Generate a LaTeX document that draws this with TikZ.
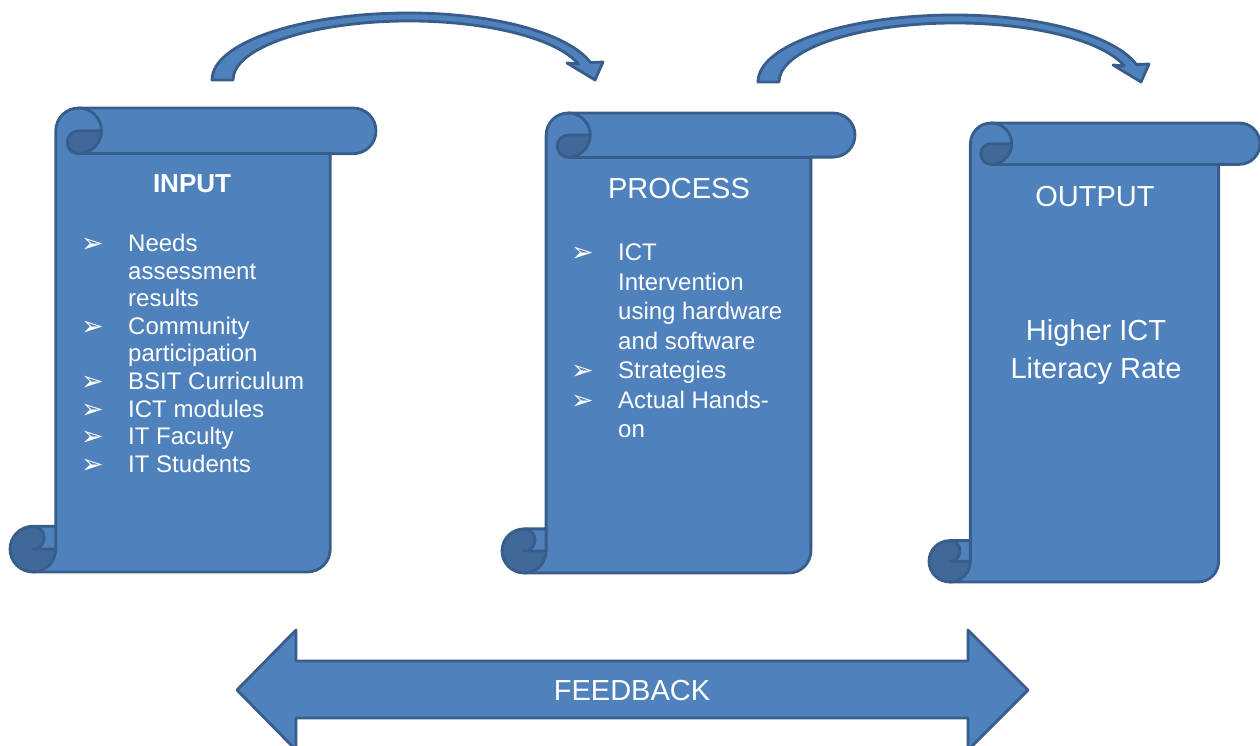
\documentclass[tikz,border=0pt]{standalone}
\usepackage{fontspec}
\setmainfont{Liberation Sans}
\newfontfamily\symfont{DejaVu Sans}
\usetikzlibrary{positioning}
\definecolor{sfill}{RGB}{79,129,189}
\definecolor{sline}{RGB}{56, 93,138}
\definecolor{sdark}{RGB}{64,104,152}
\tikzset{
  % scroll outline
  ScrL/.style={draw=sline,line width=2.8pt,line cap=round,line join=round},
  % block arrows
  BArr/.style={fill=sfill,draw=sline,line width=2.8pt,line join=round},
  % white headings
  Ttl/.style={text=white,inner sep=0pt,anchor=base,
              font=\fontsize{29}{38}\selectfont},
  % white bullet lists (anchored at last baseline)
  Lst/.style={text=white,align=left,inner sep=0pt,anchor=base west,
              font=\fontsize{24}{#1}\selectfont},
  Lst/.default=27.6,
}
\newcommand\bul{\makebox[47pt][l]{\raisebox{-1pt}{\symfont\fontsize{27}{27}\selectfont ➢}}}
\newcommand\cnt{\hspace*{47pt}}
% vertical scroll: left, top, right, bottom
\newcommand\drawscroll[4]{%
  \pgfmathsetmacro\scC{(#3-#1)/8}%
  \pgfmathsetmacro\scH{\scC/2}%
  \pgfmathsetmacro\scQ{\scC/4}%
  \pgfmathsetmacro\scXa{#1+\scH}%
  \pgfmathsetmacro\scXb{#1+\scC}%
  \pgfmathsetmacro\scXc{#1+\scC+\scH}%
  \pgfmathsetmacro\scXd{#1+2*\scC}%
  \pgfmathsetmacro\scXf{#3-\scC}%
  \pgfmathsetmacro\scXg{#3-\scH}%
  \pgfmathsetmacro\scYa{#2+\scH}%
  \pgfmathsetmacro\scYb{#2+\scC}%
  \pgfmathsetmacro\scYc{#4-\scC}%
  \pgfmathsetmacro\scYd{#4-\scH}%
  \fill[sfill] (\scXa,#4) arc[start angle=90,end angle=270,radius=\scH]
     -- (\scXb,\scYc) -- (\scXb,\scYa) arc[start angle=180,end angle=270,radius=\scH]
     -- (\scXg,#2) arc[start angle=-90,end angle=90,radius=\scH]
     -- (\scXf,\scYb) -- (\scXf,\scYd) arc[start angle=0,end angle=90,radius=\scH] -- cycle;
  \fill[sdark] (\scXd,\scYa) arc[start angle=0,end angle=90,radius=\scH]
     arc[start angle=90,end angle=270,radius=\scQ] -- cycle;
  \fill[sdark] (\scXa,\scYc) arc[start angle=-90,end angle=90,radius=\scQ]
     -- (\scXb,\scYd) arc[start angle=0,end angle=270,radius=\scH] -- cycle;
  \draw[ScrL] (\scXb,\scYc) -- (\scXb,\scYa) arc[start angle=180,end angle=270,radius=\scH]
     -- (\scXg,#2) arc[start angle=-90,end angle=90,radius=\scH]
     -- (\scXf,\scYb) -- (\scXf,\scYd) arc[start angle=0,end angle=90,radius=\scH]
     -- (\scXa,#4) arc[start angle=90,end angle=270,radius=\scH] -- cycle;
  \draw[ScrL] (\scXc,#2) arc[start angle=-90,end angle=90,radius=\scH]
     arc[start angle=90,end angle=270,radius=\scQ] -- (\scXd,\scYa);
  \draw[ScrL] (\scXf,\scYb) -- (\scXc,\scYb);
  \draw[ScrL] (\scXa,\scYc) arc[start angle=-90,end angle=90,radius=\scQ] -- (\scXb,\scYd);
  \draw[ScrL] (\scXa,#4) arc[start angle=90,end angle=0,radius=\scH] -- (\scXb,\scYc);
}
% curved arrow, shifted
\newcommand\curvarr[2]{%
  \draw[BArr,shift={(#1,#2)}] (212,80)
     arc[start angle=180,end angle=270,x radius=197,y radius=67]
     arc[start angle=270,end angle=344.9,x radius=188,y radius=67]
     -- (603,62) -- (595,80) -- (567,63)
     -- ([shift={(409,80)}]344.3:176 and 59)
     arc[start angle=344.3,end angle=180,x radius=176,y radius=59] -- cycle;
}
\begin{document}
\begin{tikzpicture}[x=1pt,y=-1pt]
  \path[use as bounding box] (0,0) rectangle (1260,746);
  \clip (0,0) rectangle (1260,746);
  \curvarr{0}{0}
  \curvarr{546}{2}
  \drawscroll{10}{108}{376}{572}
  \drawscroll{502}{113}{855}{573}
  \drawscroll{929}{123}{1260}{582}
  \draw[BArr] (237,690) -- (296,630) -- (296,661) -- (968,661) -- (968,630)
     -- (1028,690) -- (968,750) -- (968,718) -- (296,718) -- (296,750) -- cycle;
  % headings
  \node[Ttl,font=\fontsize{26}{30}\selectfont\bfseries] (intl) at (192,193) {INPUT};
  \node[Ttl] (prtl) at (679,199) {PROCESS};
  \node[Ttl] (ottl) at (1095,207) {OUTPUT};
  \node[Ttl,align=center] (otxt) at (1096,378) {Higher ICT\\Literacy Rate};
  \node[Ttl] (fbtl) at (632,700) {FEEDBACK};
  % lists
  \node[Lst] (inls) at (81,472.3)
       {\bul Needs\\ \cnt assessment\\ \cnt results\\ \bul Community\\
        \cnt participation\\ \bul BSIT Curriculum\\ \bul ICT modules\\
        \bul IT Faculty\\ \bul IT Students};
  \node[Lst=29.5] (prls) at (571,437.5)
       {\bul ICT\\ \cnt Intervention\\ \cnt using hardware\\ \cnt and software\\
        \bul Strategies\\ \bul Actual Hands-\\ \cnt on};
\end{tikzpicture}
\end{document}
